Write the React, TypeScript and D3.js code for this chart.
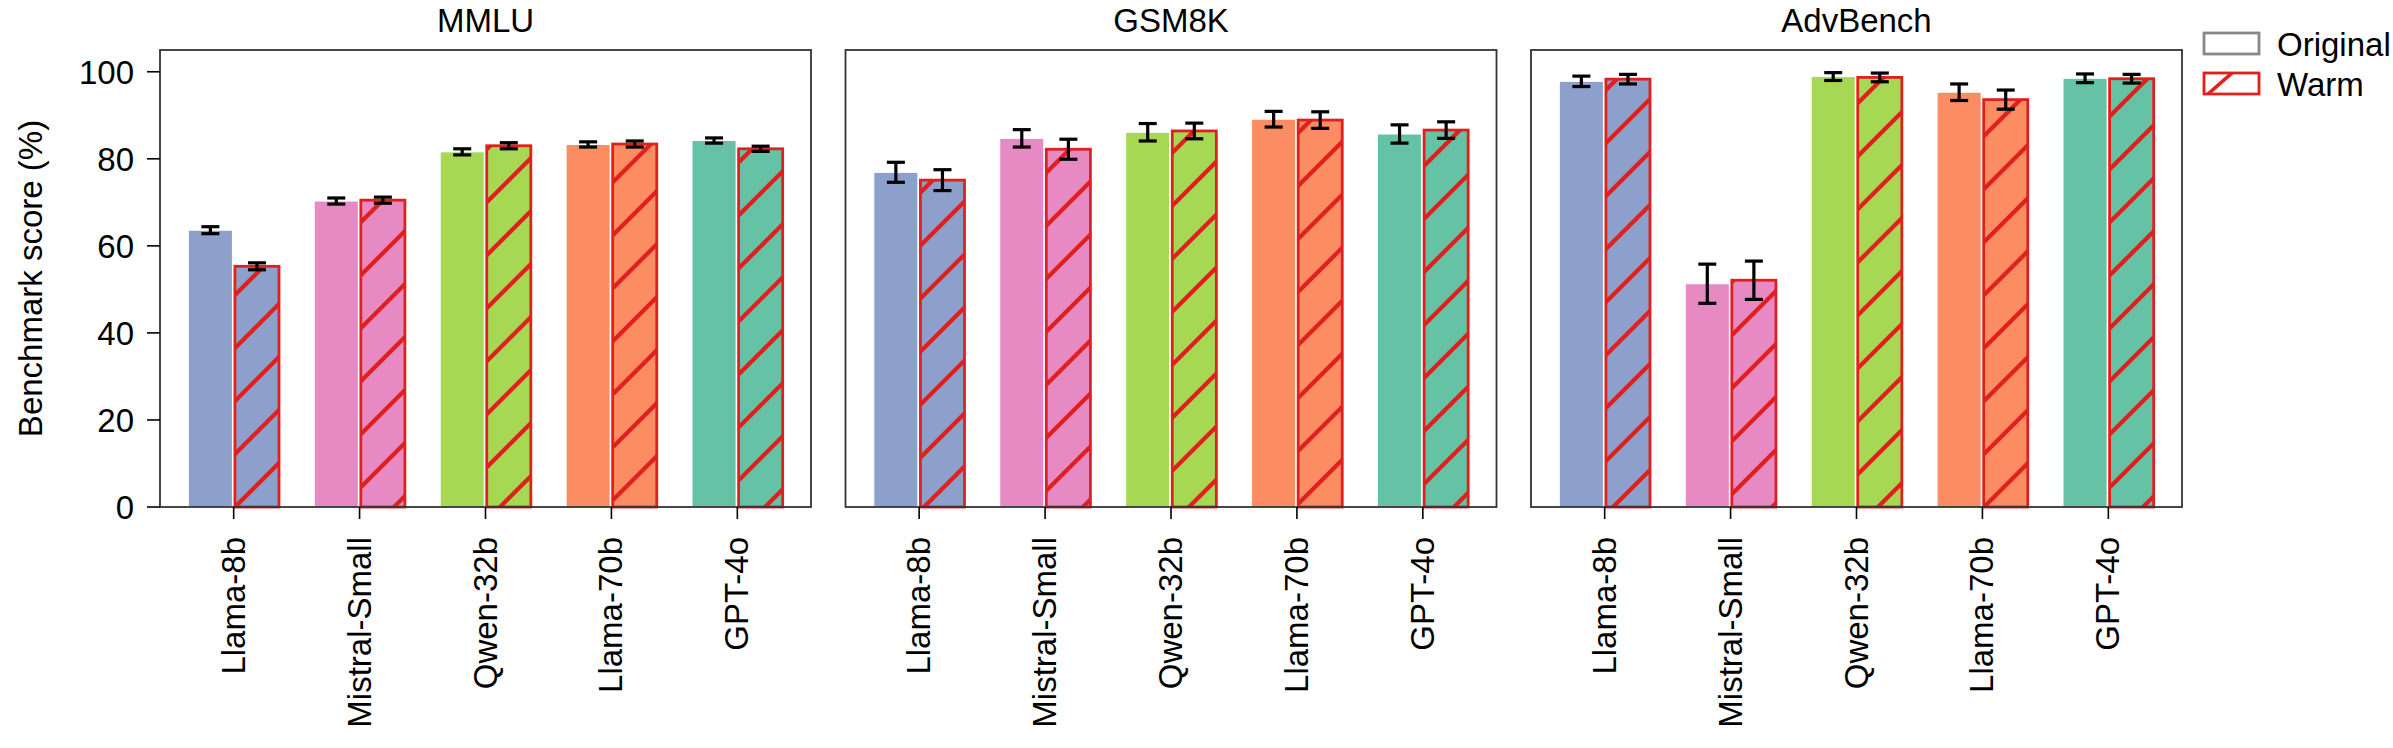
import * as d3 from 'd3'

// data
const models = ['Llama-8b', 'Mistral-Small', 'Qwen-32b', 'Llama-70b', 'GPT-4o']
const benchmarks = ['MMLU', 'GSM8K', 'AdvBench']
const modelColors = ['#8da0cb', '#e78ac3', '#a6d854', '#fc8d62', '#66c2a5']
const yTicks = [0, 20, 40, 60, 80, 100]

const mmluOriginal = [63.6, 70.3, 81.6, 83.3, 84.2]
const mmluOriginalErr = [0.8, 0.7, 0.7, 0.6, 0.6]
const mmluWarm = [55.3, 70.5, 83.0, 83.4, 82.3]
const mmluWarmErr = [0.8, 0.7, 0.7, 0.7, 0.6]

const gsmOriginal = [76.9, 84.7, 86.1, 89.1, 85.7]
const gsmOriginalErr = [2.3, 2.0, 2.0, 1.8, 2.1]
const gsmWarm = [75.1, 82.2, 86.4, 88.9, 86.6]
const gsmWarmErr = [2.4, 2.3, 1.8, 1.9, 1.9]

const advOriginal = [97.8, 51.3, 98.9, 95.3, 98.5]
const advOriginalErr = [1.2, 4.5, 0.9, 1.9, 1.0]
const advWarm = [98.3, 52.1, 98.7, 93.6, 98.4]
const advWarmErr = [1.1, 4.4, 1.0, 2.2, 1.0]

const originals = [mmluOriginal, gsmOriginal, advOriginal]
const originalErrs = [mmluOriginalErr, gsmOriginalErr, advOriginalErr]
const warms = [mmluWarm, gsmWarm, advWarm]
const warmErrs = [mmluWarmErr, gsmWarmErr, advWarmErr]

const W = 2393
const H = 748
const panelLeft = [160, 845.5, 1531]
const panelW = 651
const top = 50
const bottom = 507
const red = '#e0201e'
const font = '"Liberation Sans", Arial, Helvetica, sans-serif'
const fs = 33
const hp = 53 // hatch period

const y = d3.scaleLinear().domain([0, 105]).range([bottom, top])

function ErrBar({ x, v, e }: { x: number; v: number; e: number }) {
  const cap = 9
  return (
    <g stroke="#000" strokeWidth={3.2}>
      <line x1={x} x2={x} y1={y(v - e)} y2={y(v + e)} />
      <line x1={x - cap} x2={x + cap} y1={y(v - e)} y2={y(v - e)} />
      <line x1={x - cap} x2={x + cap} y1={y(v + e)} y2={y(v + e)} />
    </g>
  )
}

function Panel({ idx }: { idx: number }) {
  const x0 = panelLeft[idx]
  const x = d3.scaleLinear().domain([-0.585, 4.585]).range([x0, x0 + panelW])
  const orig = originals[idx]
  const warm = warms[idx]
  return (
    <g>
      <text x={x0 + panelW / 2} y={32} textAnchor="middle" fontSize={fs} fontFamily={font}>
        {benchmarks[idx]}
      </text>
      {models.map((m, i) => {
        const ox1 = x(i - 0.36), ox2 = x(i - 0.01)
        const wx1 = x(i + 0.01), wx2 = x(i + 0.36)
        return (
          <g key={m}>
            <rect x={ox1} y={y(orig[i])} width={ox2 - ox1} height={y(0) - y(orig[i])}
              fill={modelColors[i]} stroke="#fff" strokeWidth={1} />
            <rect x={wx1} y={y(warm[i])} width={wx2 - wx1} height={y(0) - y(warm[i])}
              fill={modelColors[i]} />
            <rect x={wx1} y={y(warm[i])} width={wx2 - wx1} height={y(0) - y(warm[i])}
              fill="url(#hatch)" stroke={red} strokeWidth={2.8} />
            <ErrBar x={(ox1 + ox2) / 2} v={orig[i]} e={originalErrs[idx][i]} />
            <ErrBar x={(wx1 + wx2) / 2} v={warm[i]} e={warmErrs[idx][i]} />
          </g>
        )
      })}
      <rect x={x0} y={top} width={panelW} height={bottom - top} fill="none" stroke="#333" strokeWidth={1.8} />
      {models.map((m, i) => (
        <g key={m}>
          <line x1={x(i)} x2={x(i)} y1={bottom} y2={bottom + 12} stroke="#000" strokeWidth={1.6} />
          <text transform={`translate(${x(i) + 11},${537}) rotate(-90)`} textAnchor="end"
            fontSize={fs} fontFamily={font}>{m}</text>
        </g>
      ))}
      {idx === 0 && yTicks.map(t => (
        <g key={t}>
          <line x1={x0 - 13} x2={x0} y1={y(t)} y2={y(t)} stroke="#000" strokeWidth={1.6} />
          <text x={x0 - 26} y={y(t)} dy="0.36em" textAnchor="end" fontSize={fs} fontFamily={font}>{t}</text>
        </g>
      ))}
    </g>
  )
}

export default function App() {
  return (
    <div style={{ position: 'absolute', left: 0, top: 0 }}>
      <svg width={W} height={H} style={{ display: 'block', background: '#fff' }}>
        <defs>
          <pattern id="hatch" patternUnits="userSpaceOnUse" width={hp} height={hp}>
            <g stroke={red} strokeWidth={4.2}>
              <line x1={-5} y1={hp + 5} x2={hp + 5} y2={-5} />
              <line x1={-5} y1={5} x2={5} y2={-5} />
              <line x1={hp - 5} y1={hp + 5} x2={hp + 5} y2={hp - 5} />
            </g>
          </pattern>
          <clipPath id="legclip">
            <rect x={2204} y={73} width={55} height={21} />
          </clipPath>
        </defs>
        <text transform={`translate(42,${(top + bottom) / 2}) rotate(-90)`} textAnchor="middle"
          fontSize={fs} fontFamily={font}>Benchmark score (%)</text>
        {benchmarks.map((b, i) => <Panel key={b} idx={i} />)}
        <g fontSize={fs} fontFamily={font}>
          <rect x={2204} y={33} width={55} height={21} fill="#fff" stroke="#888" strokeWidth={2.8} />
          <text x={2277} y={44} dy="0.36em">Original</text>
          <line x1={2208} y1={94} x2={2232} y2={73} stroke={red} strokeWidth={3.6} clipPath="url(#legclip)" />
          <rect x={2204} y={73} width={55} height={21} fill="none" stroke={red} strokeWidth={2.8} />
          <text x={2277} y={84} dy="0.36em">Warm</text>
        </g>
      </svg>
    </div>
  )
}
